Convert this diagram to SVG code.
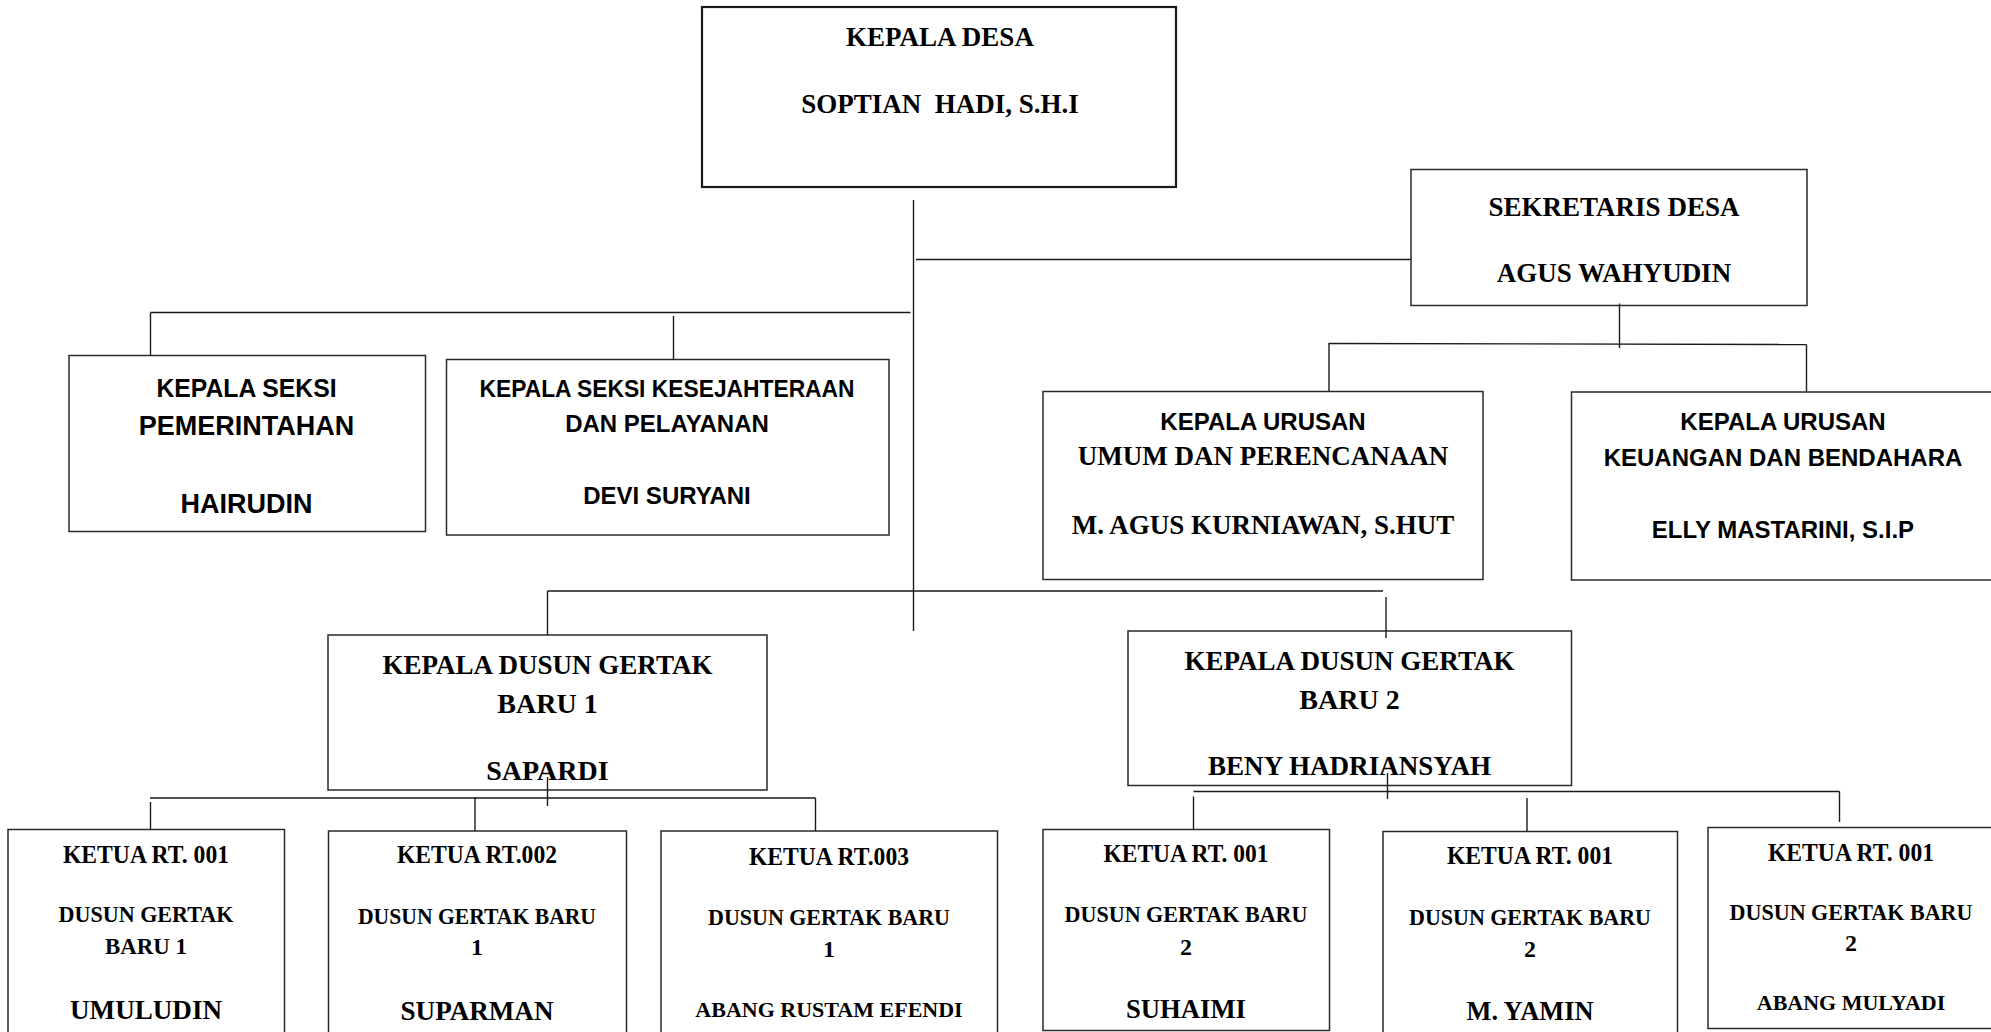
<svg xmlns="http://www.w3.org/2000/svg" width="1991" height="1032" viewBox="0 0 1991 1032">
<style>
.bg{fill:#ffffff}
.box{fill:#ffffff;stroke:#2a2a2a;stroke-width:1.5}
.box2{fill:#ffffff;stroke:#1a1a1a;stroke-width:2.2}
.ln{stroke:#1a1a1a;stroke-width:1.4;fill:none}
.sf{font-family:"Liberation Serif","DejaVu Serif",serif;font-weight:bold;fill:#000;text-anchor:middle}
.ss{font-family:"Liberation Sans","DejaVu Sans",sans-serif;font-weight:bold;fill:#000;text-anchor:middle}
</style>
<rect class="bg" x="0" y="0" width="1991" height="1032"/>
<g id="kepala-desa">
<rect class="box2" x="702" y="7" width="474" height="180"/>
<text class="sf" x="940" y="45.5" font-size="27">KEPALA DESA</text>
<text class="sf" x="940" y="113" font-size="27" xml:space="preserve" style="white-space:pre">SOPTIAN  HADI, S.H.I</text>
</g>
<g id="sekretaris-desa">
<rect class="box" x="1411" y="169.5" width="396" height="136"/>
<text class="sf" x="1614" y="216" font-size="27">SEKRETARIS DESA</text>
<text class="sf" x="1614" y="282" font-size="27">AGUS WAHYUDIN</text>
</g>
<g id="kasi-pemerintahan">
<rect class="box" x="69" y="355.5" width="356.5" height="176"/>
<text class="ss" x="246.5" y="396.5" font-size="26" textLength="180" lengthAdjust="spacingAndGlyphs">KEPALA SEKSI</text>
<text class="ss" x="246.5" y="435" font-size="27">PEMERINTAHAN</text>
<text class="ss" x="246.5" y="512.5" font-size="27">HAIRUDIN</text>
</g>
<g id="kasi-kesejahteraan">
<rect class="box" x="446.5" y="359.5" width="442.5" height="175.5"/>
<text class="ss" x="667" y="397" font-size="24" textLength="375" lengthAdjust="spacingAndGlyphs">KEPALA SEKSI KESEJAHTERAAN</text>
<text class="ss" x="667" y="432" font-size="24">DAN PELAYANAN</text>
<text class="ss" x="667" y="504" font-size="24">DEVI SURYANI</text>
</g>
<g id="kaur-umum">
<rect class="box" x="1043" y="391.5" width="440" height="188"/>
<text class="ss" x="1263" y="429.5" font-size="24">KEPALA URUSAN</text>
<text class="sf" x="1263" y="465" font-size="27">UMUM DAN PERENCANAAN</text>
<text class="sf" x="1263" y="533.5" font-size="27">M. AGUS KURNIAWAN, S.HUT</text>
</g>
<g id="kaur-keuangan">
<rect class="box" x="1571.5" y="392" width="440" height="188"/>
<text class="ss" x="1783" y="430" font-size="24">KEPALA URUSAN</text>
<text class="ss" x="1783" y="466" font-size="24">KEUANGAN DAN BENDAHARA</text>
<text class="ss" x="1783" y="538" font-size="24">ELLY MASTARINI, S.I.P</text>
</g>
<g id="kadus-1">
<rect class="box" x="328" y="635" width="439" height="155"/>
<text class="sf" x="547.5" y="674" font-size="28" textLength="330" lengthAdjust="spacingAndGlyphs">KEPALA DUSUN GERTAK</text>
<text class="sf" x="547.5" y="712.5" font-size="28">BARU 1</text>
<text class="sf" x="547.5" y="780" font-size="28">SAPARDI</text>
</g>
<g id="kadus-2">
<rect class="box" x="1128" y="631" width="443.5" height="154.5"/>
<text class="sf" x="1349.5" y="669.5" font-size="28" textLength="330" lengthAdjust="spacingAndGlyphs">KEPALA DUSUN GERTAK</text>
<text class="sf" x="1349.5" y="709" font-size="28">BARU 2</text>
<text class="sf" x="1349.5" y="774.5" font-size="28" textLength="283" lengthAdjust="spacingAndGlyphs">BENY HADRIANSYAH</text>
</g>
<g id="rt-001-dusun-1">
<rect class="box" x="8" y="829.5" width="276.5" height="220"/>
<text class="sf" x="146" y="863" font-size="25" textLength="166" lengthAdjust="spacingAndGlyphs">KETUA RT. 001</text>
<text class="sf" x="146" y="922" font-size="24" textLength="175" lengthAdjust="spacingAndGlyphs">DUSUN GERTAK</text>
<text class="sf" x="146" y="953.5" font-size="24" textLength="82" lengthAdjust="spacingAndGlyphs">BARU 1</text>
<text class="sf" x="146" y="1019" font-size="28" textLength="152" lengthAdjust="spacingAndGlyphs">UMULUDIN</text>
</g>
<g id="rt-002-dusun-1">
<rect class="box" x="328.5" y="831" width="298" height="220"/>
<text class="sf" x="477" y="863" font-size="25" textLength="160" lengthAdjust="spacingAndGlyphs">KETUA RT.002</text>
<text class="sf" x="477" y="923.5" font-size="24" textLength="238" lengthAdjust="spacingAndGlyphs">DUSUN GERTAK BARU</text>
<text class="sf" x="477" y="955" font-size="24">1</text>
<text class="sf" x="477" y="1020" font-size="28" textLength="153" lengthAdjust="spacingAndGlyphs">SUPARMAN</text>
</g>
<g id="rt-003-dusun-1">
<rect class="box" x="661" y="831" width="336.5" height="220"/>
<text class="sf" x="829" y="864.5" font-size="25" textLength="160" lengthAdjust="spacingAndGlyphs">KETUA RT.003</text>
<text class="sf" x="829" y="925" font-size="24" textLength="242" lengthAdjust="spacingAndGlyphs">DUSUN GERTAK BARU</text>
<text class="sf" x="829" y="956.5" font-size="24">1</text>
<text class="sf" x="829" y="1016.5" font-size="22">ABANG RUSTAM EFENDI</text>
</g>
<g id="rt-001-dusun-2-a">
<rect class="box" x="1043" y="829.5" width="286.5" height="201"/>
<text class="sf" x="1186" y="862" font-size="25" textLength="165" lengthAdjust="spacingAndGlyphs">KETUA RT. 001</text>
<text class="sf" x="1186" y="921.5" font-size="24" textLength="243" lengthAdjust="spacingAndGlyphs">DUSUN GERTAK BARU</text>
<text class="sf" x="1186" y="955" font-size="24">2</text>
<text class="sf" x="1186" y="1017.5" font-size="28" textLength="120" lengthAdjust="spacingAndGlyphs">SUHAIMI</text>
</g>
<g id="rt-001-dusun-2-b">
<rect class="box" x="1383" y="831.5" width="294.5" height="220"/>
<text class="sf" x="1530" y="864" font-size="25" textLength="166" lengthAdjust="spacingAndGlyphs">KETUA RT. 001</text>
<text class="sf" x="1530" y="925" font-size="24" textLength="242" lengthAdjust="spacingAndGlyphs">DUSUN GERTAK BARU</text>
<text class="sf" x="1530" y="956.5" font-size="24">2</text>
<text class="sf" x="1530" y="1020" font-size="28" textLength="127" lengthAdjust="spacingAndGlyphs">M. YAMIN</text>
</g>
<g id="rt-001-dusun-2-c">
<rect class="box" x="1708" y="827.5" width="300" height="201"/>
<text class="sf" x="1851" y="860.5" font-size="25" textLength="166" lengthAdjust="spacingAndGlyphs">KETUA RT. 001</text>
<text class="sf" x="1851" y="920" font-size="24" textLength="243" lengthAdjust="spacingAndGlyphs">DUSUN GERTAK BARU</text>
<text class="sf" x="1851" y="950.5" font-size="24">2</text>
<text class="sf" x="1851" y="1009.5" font-size="22">ABANG MULYADI</text>
</g>
<g id="connectors">
<line class="ln" x1="913.5" y1="200" x2="913.5" y2="631"/>
<line class="ln" x1="916" y1="259.5" x2="1411" y2="259.5"/>
<line class="ln" x1="150.5" y1="312.5" x2="910.5" y2="312.5"/>
<line class="ln" x1="150.5" y1="312.5" x2="150.5" y2="356"/>
<line class="ln" x1="673.5" y1="316" x2="673.5" y2="359.5"/>
<line class="ln" x1="1619.5" y1="303.5" x2="1619.5" y2="348"/>
<line class="ln" x1="1328.5" y1="343.5" x2="1806.5" y2="344.5"/>
<line class="ln" x1="1329" y1="343.5" x2="1329" y2="391.5"/>
<line class="ln" x1="1806.5" y1="344.5" x2="1806.5" y2="392"/>
<line class="ln" x1="547.5" y1="591" x2="1383" y2="591"/>
<line class="ln" x1="547.5" y1="591" x2="547.5" y2="635"/>
<line class="ln" x1="1386" y1="597" x2="1386" y2="638"/>
<line class="ln" x1="547.5" y1="777" x2="547.5" y2="806"/>
<line class="ln" x1="150" y1="798" x2="815.5" y2="798"/>
<line class="ln" x1="150.5" y1="802" x2="150.5" y2="829.5"/>
<line class="ln" x1="475" y1="797" x2="475" y2="831"/>
<line class="ln" x1="815.5" y1="798" x2="815.5" y2="831"/>
<line class="ln" x1="1387.5" y1="773" x2="1387.5" y2="799"/>
<line class="ln" x1="1193.5" y1="791.5" x2="1839.5" y2="791.5"/>
<line class="ln" x1="1193.5" y1="796.5" x2="1193.5" y2="829.5"/>
<line class="ln" x1="1527" y1="798" x2="1527" y2="831.5"/>
<line class="ln" x1="1839.5" y1="791.5" x2="1839.5" y2="822"/>
</g>
</svg>
